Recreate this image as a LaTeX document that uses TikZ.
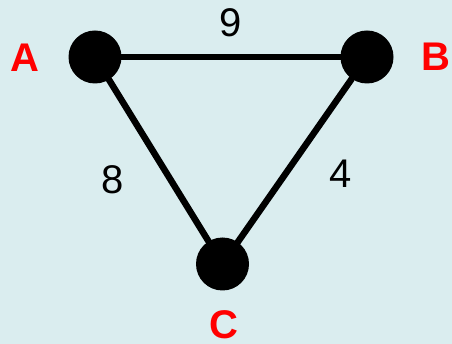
\documentclass[tikz,border=0pt]{standalone}
\usepackage{fontspec}
\setmainfont{Liberation Sans}
\usepackage{tikz}
\usetikzlibrary{calc}

\begin{document}
\begin{tikzpicture}[x=1pt, y=-1pt, line cap=round,
  vert/.style={circle, fill=black, minimum size=53pt, inner sep=0pt},
  wlabel/.style={font=\fontsize{40}{40}\selectfont, inner sep=0pt},
  vlabel/.style={font=\fontsize{40}{40}\selectfont\bfseries, text=vertR, inner sep=0pt},
  edge/.style={line width=6.5pt}]
\definecolor{panelB}{HTML}{DAEDEF}
\colorlet{vertR}{red}
% ---- background ----
\fill[panelB] (0,0) rectangle (452,344);
\useasboundingbox (0,0) rectangle (452,344);
% ---- vertices ----
\node[vert] (A) at (95,57) {};
\node[vert] (B) at (367,57) {};
\node[vert] (C) at (222.5,264) {};
% ---- edges ----
\draw[edge] (A) -- (B);
\draw[edge] (A) -- (C);
\draw[edge] (B) -- (C);
% ---- weights ----
\node[wlabel] (wAB) at (231,23) {9};
\node[wlabel] (wAC) at (113,180) {8};
\node[wlabel] (wBC) at (341,174) {4};
% ---- vertex names ----
\node[vlabel] (lA) at (25,58) {A};
\node[vlabel] (lB) at (436,57) {B};
\node[vlabel] (lC) at (224,325) {C};
\end{tikzpicture}
\end{document}
